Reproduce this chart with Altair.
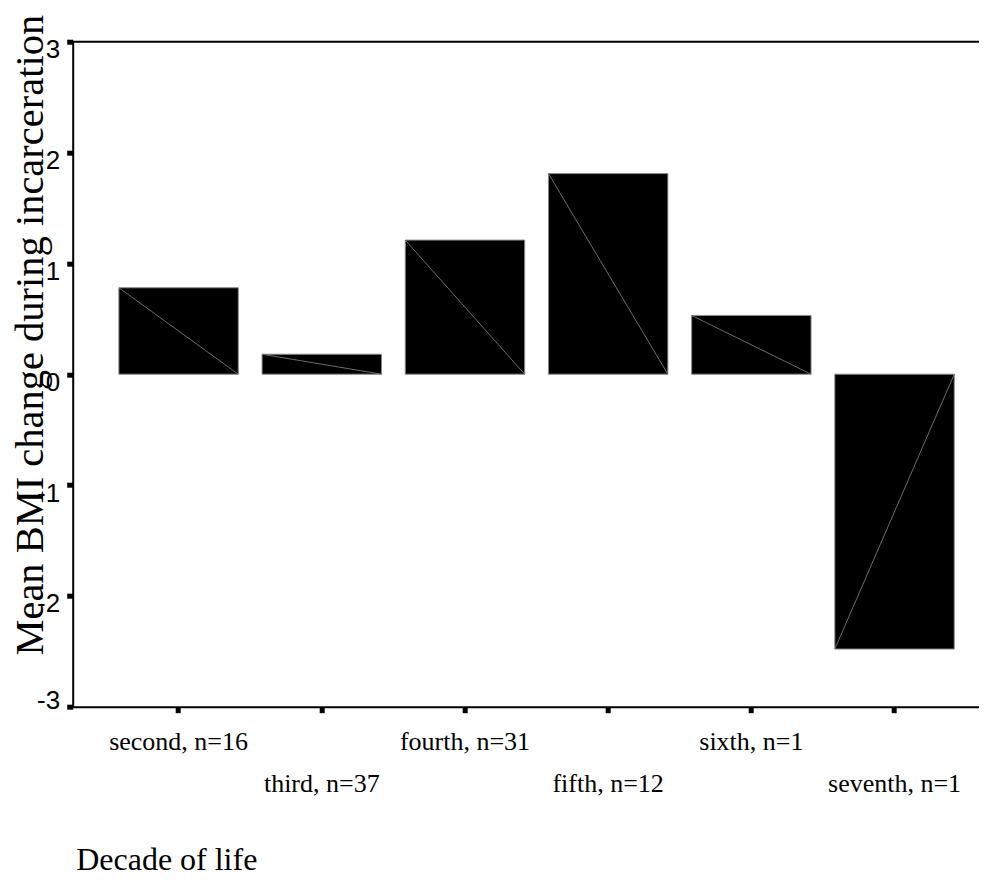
import json
import altair as alt
import pandas as pd

decades = ["second", "third", "fourth", "fifth", "sixth", "seventh"]
counts = [16, 37, 31, 12, 1, 1]
mean_change = [0.78, 0.18, 1.21, 1.81, 0.53, -2.48]
y_ticks = [-3, -2, -1, 0, 1, 2, 3]

labels = [f"{d}, n={n}" for d, n in zip(decades, counts)]
df = pd.DataFrame({"label": labels, "value": mean_change})

label_expr = (
    "indexof(" + json.dumps(labels) + ", datum.value) % 2 == 1 ? ['', datum.label] : datum.label"
)

x_scale = alt.Scale(domain=labels, paddingInner=0.166, paddingOuter=0.278, align=0.58)
y_scale = alt.Scale(domain=[-3, 3], nice=False, zero=False)

x_axis = alt.Axis(
    title="Decade of life",
    titleFont="Liberation Serif",
    titleFontSize=32,
    titleFontWeight="normal",
    titleColor="black",
    titleAnchor="start",
    titleAlign="left",
    titleBaseline="alphabetic",
    titleX=3,
    titleY=163,
    labelExpr=label_expr,
    labelFont="Liberation Serif",
    labelFontSize=26,
    labelColor="black",
    labelAngle=0,
    labelBaseline="alphabetic",
    labelPadding=37,
    labelLineHeight=41.7,
    labelOverlap=False,
    labelFlush=False,
    labelBound=False,
    domainColor="black",
    domainWidth=2,
    tickColor="black",
    tickSize=6,
    tickWidth=5,
    grid=False,
)

y_axis = alt.Axis(
    title="Mean BMI change during incarceration",
    titleFont="Liberation Serif",
    titleFontSize=40.5,
    titleFontWeight="normal",
    titleColor="black",
    titleAngle=270,
    titleAlign="center",
    titleBaseline="alphabetic",
    titleX=-30,
    titleY=293,
    values=y_ticks,
    labelExpr="'' + round(datum.value)",
    labelFont="Liberation Sans",
    labelFontSize=26,
    labelColor="black",
    labelBaseline="middle",
    labelPadding=7,
    labelOffset={"condition": {"test": "datum.value == -3", "value": -6}, "value": 8},
    labelOverlap=False,
    labelFlush=False,
    labelBound=False,
    domainColor="black",
    domainWidth=2,
    tickColor="black",
    tickSize=6,
    tickWidth=5,
    grid=False,
)

base = alt.Chart(df)

bars = base.mark_bar(color="black", stroke="#8a8a8a", strokeWidth=1).encode(
    x=alt.X("label:N", scale=x_scale, axis=x_axis, sort=labels),
    y=alt.Y("value:Q", scale=y_scale, axis=y_axis),
    y2=alt.datum(0),
)

diag = base.mark_rule(color="#6a6a6a", strokeWidth=1).encode(
    x=alt.X("label:N", scale=x_scale, sort=labels, bandPosition=0),
    x2=alt.X2("label", bandPosition=1),
    y=alt.Y("value:Q", scale=y_scale),
    y2=alt.datum(0),
)

top_line = alt.Chart(pd.DataFrame({"t": [3]})).mark_rule(color="black", strokeWidth=2).encode(
    y=alt.Y("t:Q", scale=y_scale)
)

chart = (
    alt.layer(bars, diag, top_line)
    .properties(
        width=915,
        height=665,
        autosize="none",
        padding={"left": 64.7, "top": 33.7, "right": -8.5, "bottom": 173},
        background="white",
    )
    .configure_view(stroke=None)
)

chart.save("out.html", embed_options={"renderer": "svg", "actions": False})
